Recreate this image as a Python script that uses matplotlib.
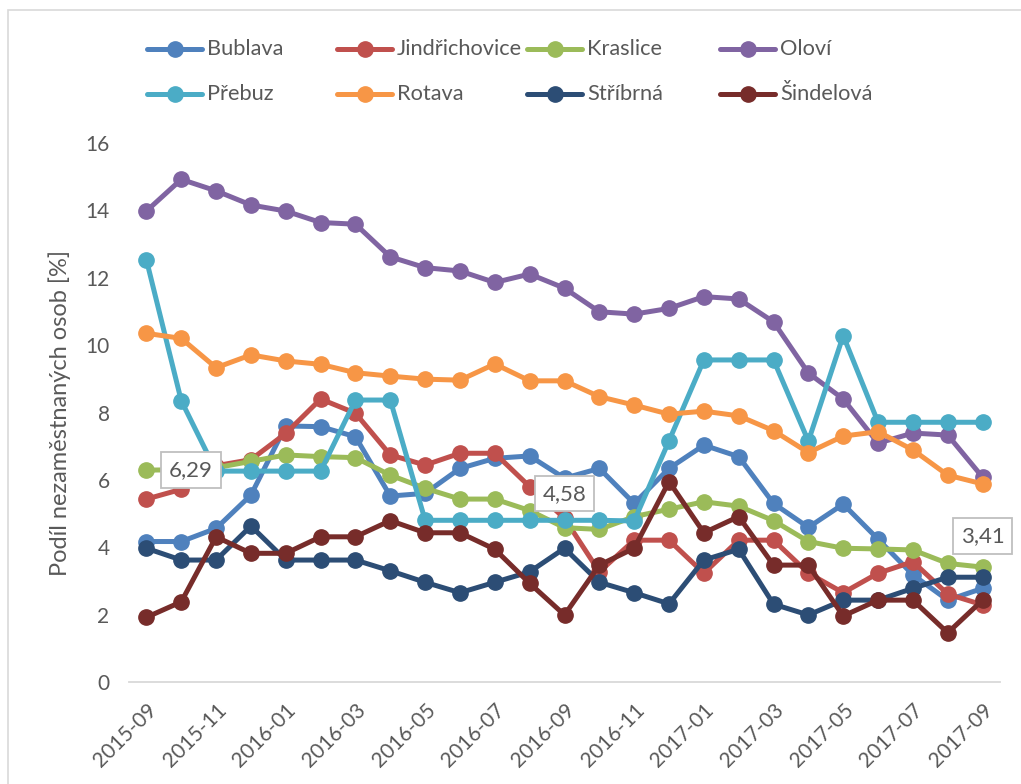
import matplotlib
matplotlib.use("Agg")
import matplotlib.pyplot as plt
from matplotlib.lines import Line2D
from matplotlib.patches import Rectangle

plt.rcParams['font.family'] = ['Lato', 'DejaVu Sans']

months = ["2015-09", "2015-10", "2015-11", "2015-12", "2016-01", "2016-02", "2016-03",
          "2016-04", "2016-05", "2016-06", "2016-07", "2016-08", "2016-09", "2016-10",
          "2016-11", "2016-12", "2017-01", "2017-02", "2017-03", "2017-04", "2017-05",
          "2017-06", "2017-07", "2017-08", "2017-09"]

bublava = [4.17, 4.17, 4.56, 5.55, 7.60, 7.58, 7.28, 5.52, 5.60, 6.34, 6.64, 6.71, 6.05,
           6.34, 5.30, 6.34, 7.03, 6.69, 5.30, 4.59, 5.28, 4.24, 3.18, 2.43, 2.78]
jindrichovice = [5.43, 5.72, 6.42, 6.60, 7.38, 8.40, 7.98, 6.74, 6.44, 6.79, 6.79, 5.80, 4.86,
                 3.27, 4.21, 4.21, 3.23, 4.21, 4.21, 3.23, 2.65, 3.23, 3.57, 2.61, 2.29]
kraslice = [6.29, 6.30, 6.36, 6.55, 6.74, 6.69, 6.66, 6.14, 5.75, 5.43, 5.43, 5.09, 4.58,
            4.53, 4.91, 5.13, 5.35, 5.22, 4.79, 4.17, 3.97, 3.95, 3.92, 3.52, 3.41]
olovi = [13.98, 14.92, 14.58, 14.16, 13.98, 13.64, 13.59, 12.62, 12.30, 12.20, 11.86, 12.11,
         11.69, 10.99, 10.92, 11.09, 11.44, 11.37, 10.69, 9.17, 8.40, 7.09, 7.39, 7.33, 6.08]
prebuz = [12.53, 8.35, 6.26, 6.26, 6.26, 6.26, 8.37, 8.37, 4.80, 4.80, 4.80, 4.80, 4.80,
          4.80, 4.78, 7.16, 9.56, 9.56, 9.56, 7.15, 10.28, 7.71, 7.71, 7.71, 7.71]
rotava = [10.35, 10.20, 9.33, 9.71, 9.53, 9.43, 9.18, 9.08, 8.99, 8.96, 9.44, 8.94, 8.94,
          8.47, 8.22, 7.95, 8.04, 7.90, 7.46, 6.81, 7.30, 7.43, 6.89, 6.14, 5.88]
stribrna = [3.97, 3.62, 3.62, 4.63, 3.62, 3.62, 3.62, 3.30, 2.96, 2.65, 2.96, 3.27, 3.97,
            2.96, 2.65, 2.32, 3.62, 3.94, 2.31, 1.99, 2.43, 2.43, 2.78, 3.11, 3.11]
sindelova = [1.92, 2.38, 4.31, 3.82, 3.82, 4.31, 4.31, 4.79, 4.43, 4.43, 3.94, 2.93, 1.99,
             3.47, 3.97, 5.95, 4.43, 4.91, 3.47, 3.47, 1.96, 2.43, 2.43, 1.46, 2.43]

series_names = ["Bublava", "Jindřichovice", "Kraslice", "Oloví",
                "Přebuz", "Rotava", "Stříbrná", "Šindelová"]
series_values = [bublava, jindrichovice, kraslice, olovi, prebuz, rotava, stribrna, sindelova]
series_colors = ["#4F81BD", "#C0504D", "#9BBB59", "#8064A2",
                 "#4BACC6", "#F79646", "#2C4D75", "#772C2A"]

label_points = [(0, "6,29"), (12, "4,58"), (24, "3,41")]
label_offsets = [(32, 0), (0, 24.5), (0, 22.5)]

W, H = 1021, 784
fig = plt.figure(figsize=(W / 100, H / 100), dpi=100)
fig.patch.set_facecolor("white")

# chart border
fig.add_artist(Rectangle((8 / W, -0.01), 1.02, 1 - 10 / H + 0.01, transform=fig.transFigure,
                         fill=False, edgecolor="#D9D9D9", linewidth=1.2))

ax = fig.add_axes([129 / W, 1 - 682 / H, (1000 - 129) / W, (682 - 143) / H])
x = list(range(len(months)))
for vals, col in zip(series_values, series_colors):
    ax.plot(x, vals, color=col, linewidth=3.6, marker="o", markersize=11,
            solid_capstyle="round", solid_joinstyle="round", clip_on=False)

ax.set_xlim(-0.5, len(months) - 0.5)
ax.set_ylim(0, 16)
ax.set_yticks(range(0, 17, 2))
ax.set_xticks(x[::2])
ax.set_xticklabels(months[::2], rotation=45, ha="right", rotation_mode="anchor")
for s in ["top", "right", "left"]:
    ax.spines[s].set_visible(False)
ax.spines["bottom"].set_color("#D9D9D9")
ax.spines["bottom"].set_linewidth(1.3)
ax.tick_params(axis="both", length=0, labelsize=15, labelcolor="#595959")
ax.tick_params(axis="y", pad=14)
ax.tick_params(axis="x", pad=13)
ax.set_ylabel("Podíl nezaměstnaných osob [%]", fontsize=17, color="#595959", labelpad=10)

for (idx, txt), off in zip(label_points, label_offsets):
    ax.annotate(txt, (idx, kraslice[idx]), xytext=off, textcoords="offset points",
                ha="center", va="center", fontsize=16, color="#595959",
                bbox=dict(boxstyle="square,pad=0.35", facecolor="white", edgecolor="#BFBFBF",
                          linewidth=1.3), zorder=10)

# manual legend
col_x = [147, 337, 527, 720]
row_y = [49, 94]
for i, (name, col) in enumerate(zip(series_names, series_colors)):
    cx = col_x[i % 4]
    cy = row_y[i // 4]
    fy = 1 - cy / H
    fig.add_artist(Line2D([cx / W, (cx + 55) / W], [fy, fy], transform=fig.transFigure,
                          color=col, linewidth=3.6, solid_capstyle="round"))
    fig.add_artist(Line2D([(cx + 27.5) / W], [fy], transform=fig.transFigure,
                          color=col, marker="o", markersize=11, linestyle="none"))
    fig.text((cx + 60) / W, fy, name, fontsize=15.7, color="#595959", ha="left", va="center")

fig.savefig("out.png", dpi=100)
